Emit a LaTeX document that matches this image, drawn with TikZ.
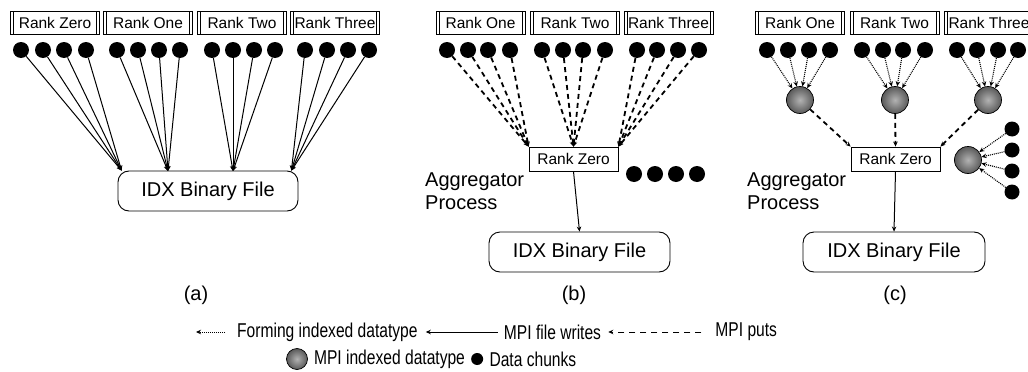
\documentclass[tikz,border=0pt]{standalone}
\usepackage{fontspec}
\setmainfont{Liberation Sans}
\newfontfamily\legendfont[FakeStretch=0.78]{Liberation Sans}
\usetikzlibrary{arrows.meta}
\tikzset{
  x=1pt, y=-1pt,
  rankbox/.style={draw, line width=0.8pt, minimum width=89, minimum height=23,
    inner sep=0pt, font=\fontsize{15.5}{18}\selectfont,
    path picture={
      \draw[line width=0.8pt] ([xshift=3pt]path picture bounding box.north west) -- ([xshift=3pt]path picture bounding box.south west);
      \draw[line width=0.8pt] ([xshift=-3pt]path picture bounding box.north east) -- ([xshift=-3pt]path picture bounding box.south east);
    }},
  zerobox/.style={draw, line width=0.9pt, minimum width=89, minimum height=24,
    inner sep=0pt, font=\fontsize{15.5}{18}\selectfont},
  filebox/.style={draw, line width=0.9pt, rounded corners=11pt, minimum height=40,
    inner sep=0pt, font=\fontsize{20}{24}\selectfont},
  chunk/.style={circle, fill=black, minimum size=16, inner sep=0pt},
  sphere/.style={circle, draw=black, line width=0.7pt, minimum size=27, inner sep=0pt,
    inner color=gray!60, outer color=gray!70!black},
  tip/.style={-{Stealth[length=5pt,width=4.5pt]}},
  filewrite/.style={tip, line width=1pt},
  mpiput/.style={tip, line width=1.8pt, dash pattern=on 5pt off 4pt},
  indexing/.style={tip, line width=1.1pt, dash pattern=on 1pt off 1pt},
  label/.style={font=\fontsize{20}{24}\selectfont},
  agg/.style={font=\fontsize{20}{23}\selectfont, align=left, anchor=west, inner sep=0pt},
  legend/.style={font=\legendfont\fontsize{20}{23}\selectfont, inner sep=0pt, anchor=west},
}
\begin{document}
\begin{tikzpicture}
\useasboundingbox (0,0) rectangle (1028,372);

% ---------- (a) every rank writes directly ----------
\node[rankbox] (ra0) at (55,23) {Rank Zero};
\node[rankbox] (ra1) at (148,23) {Rank One};
\node[rankbox] (ra2) at (242,23) {Rank Two};
\node[rankbox] (ra3) at (335,23) {Rank Three};
\node[filebox, minimum width=180] (fa) at (208,191) {IDX Binary File};
\coordinate (ta0) at ([xshift=4pt]fa.north west);
\coordinate (ta1) at (168,171);
\coordinate (ta2) at (233,171);
\coordinate (ta3) at ([xshift=-7pt]fa.north east);
\foreach \g/\xs in {0/{21,43,64,86}, 1/{117,138,159,180}, 2/{212,233,254,275}, 3/{305,327,348,369}} {
  \foreach \x [count=\i] in \xs {
    \node[chunk] (da\g\i) at (\x,50) {};
    \draw[filewrite] (da\g\i) -- (ta\g);
  }
}
\node[label] (la) at (196,295) {(a)};

% ---------- (b) ranks put data into the aggregator ----------
\node[rankbox] (rb1) at (480.5,23) {Rank One};
\node[rankbox] (rb2) at (575,23) {Rank Two};
\node[rankbox] (rb3) at (668.5,23) {Rank Three};
\node[zerobox] (zb) at (573.5,159) {Rank Zero};
\coordinate (tb1) at (zb.north west);
\coordinate (tb2) at (zb.north);
\coordinate (tb3) at (zb.north east);
\foreach \g/\xs in {1/{447,468,488,510}, 2/{542,563,583,605}, 3/{637,657,678,699}} {
  \foreach \x [count=\i] in \xs {
    \node[chunk] (db\g\i) at (\x,50) {};
    \draw[mpiput] (db\g\i) -- (tb\g);
  }
}
\foreach \x [count=\i] in {634,655,676,697} \node[chunk] (eb\i) at (\x,174) {};
\node[agg] (ab) at (425,191) {Aggregator\\Process};
\node[filebox, minimum width=181] (fb) at (579.5,252) {IDX Binary File};
\draw[filewrite] (zb.south) -- (fb.north);
\node[label] (lb) at (574,295) {(b)};

% ---------- (c) indexed datatypes are put into the aggregator ----------
\node[rankbox] (rc1) at (800,23) {Rank One};
\node[rankbox] (rc2) at (894.5,23) {Rank Two};
\node[rankbox] (rc3) at (989,23) {Rank Three};
\node[zerobox] (zc) at (895.5,159) {Rank Zero};
\node[sphere] (sc1) at (800,100) {};
\node[sphere] (sc2) at (895,100) {};
\node[sphere] (sc3) at (988,100) {};
\node[sphere] (sc4) at (968,160) {};
\foreach \g/\xs in {1/{767,788,809,830}, 2/{862,883,903,925}, 3/{957,977,998,1018}} {
  \foreach \x [count=\i] in \xs {
    \node[chunk] (dc\g\i) at (\x,50) {};
    \draw[indexing] (dc\g\i) -- (sc\g);
  }
}
\foreach \y [count=\i] in {129,150,171,192} {
  \node[chunk, minimum size=15] (ec\i) at (1012,\y) {};
  \draw[indexing] (ec\i) -- (sc4);
}
\draw[mpiput] (sc1) -- (zc.north west);
\draw[mpiput] (sc2) -- (zc.north);
\draw[mpiput] (sc3) -- (zc.north east);
\node[agg] (ac) at (747,191) {Aggregator\\Process};
\node[filebox, minimum width=182] (fc) at (894,252) {IDX Binary File};
\draw[filewrite] (zc.south) -- (fc.north);
\node[label] (lc) at (895,295) {(c)};

% ---------- legend ----------
\coordinate (l1s) at (225,332);
\coordinate (l1e) at (196,332);
\draw[indexing, line width=0.8pt] (l1s) -- (l1e);
\node[legend] (t1) at (237,332) {Forming indexed datatype};
\coordinate (l2e) at ([xshift=8pt]t1.east);
\coordinate (l2s) at ([xshift=72pt]l2e);
\draw[filewrite] (l2s) -- (l2e);
\node[legend] (t2) at ([xshift=6pt]l2s) {MPI file writes};
\coordinate (l3e) at ([xshift=7pt]t2.east);
\coordinate (l3s) at ([xshift=93pt]l3e);
\draw[tip, line width=1pt, dash pattern=on 6pt off 5pt] (l3s) -- (l3e);
\node[legend] (t3) at ([xshift=14pt]l3s) {MPI puts};
\node[sphere, minimum size=21] (ks) at (297,359) {};
\node[legend] (t4) at ([xshift=6pt]ks.east) {MPI indexed datatype};
\node[chunk, minimum size=12] (kd) at ([xshift=12pt]t4.east) {};
\node[legend] (t5) at ([xshift=6pt]kd.east) {Data chunks};
\end{tikzpicture}
\end{document}
